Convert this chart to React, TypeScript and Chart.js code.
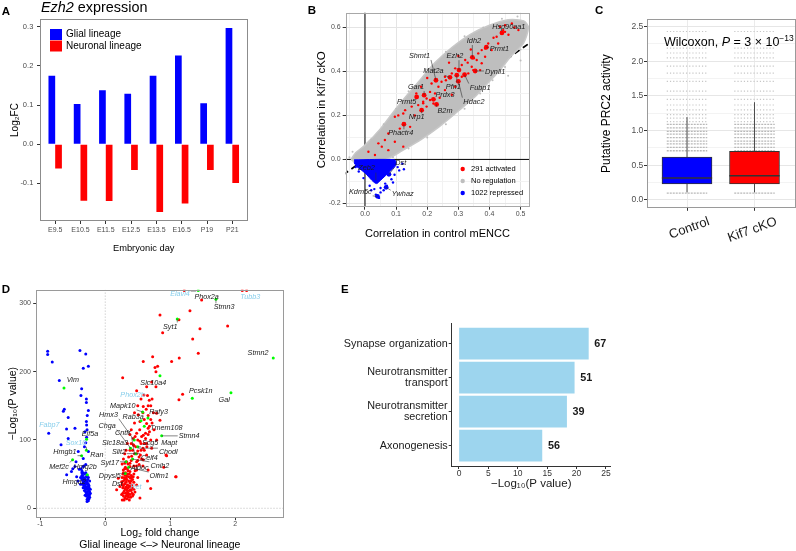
import React, { useEffect, useRef } from 'react';
import { Chart, registerables } from 'chart.js';

Chart.register(...registerables);

const FONT = "'Liberation Sans', 'DejaVu Sans', Arial, sans-serif";
Chart.defaults.font.family = FONT;
Chart.defaults.color = '#4d4d4d';

// ================= Panel A data =================
const aCategories = ['E9.5', 'E10.5', 'E11.5', 'E12.5', 'E13.5', 'E16.5', 'P19', 'P21'];
const aGlial = [0.175, 0.103, 0.138, 0.129, 0.175, 0.227, 0.105, 0.297];
const aNeuronal = [-0.062, -0.144, -0.145, -0.066, -0.173, -0.151, -0.066, -0.099];
const aSeries = ['Glial lineage', 'Neuronal lineage'];
const aYTicks = [-0.1, 0, 0.1, 0.2, 0.3];

// ================= Panel B data =================
const bXTicks = [-0.05, 0, 0.05, 0.1, 0.15, 0.2, 0.25, 0.3, 0.35, 0.4, 0.45, 0.5];
const bYTicks = [-0.2, -0.1, 0, 0.1, 0.2, 0.3, 0.4, 0.5, 0.6];
const bIdentity = [-0.07, 0.54];
// outline of the dense "no regulation" cloud
const bNoRegOutline: [number, number][] = [
  [-0.045, 0.0], [-0.03, 0.03], [0, 0.065], [0.05, 0.14], [0.11, 0.25], [0.17, 0.35], [0.225, 0.44],
  [0.28, 0.51], [0.34, 0.57], [0.4, 0.61], [0.46, 0.635], [0.51, 0.63], [0.525, 0.6], [0.51, 0.53],
  [0.47, 0.47], [0.43, 0.4], [0.39, 0.34], [0.35, 0.28], [0.3, 0.22], [0.24, 0.15], [0.18, 0.09],
  [0.12, 0.04], [0.07, 0.0], [0.03, -0.015], [-0.03, -0.015], [-0.045, 0.0],
];
const bNoRegEdge: [number, number][] = [
  [0.02, 0.09], [0.06, 0.16], [0.1, 0.23], [0.14, 0.31], [0.2, 0.41], [0.26, 0.49], [0.32, 0.56],
  [0.38, 0.6], [0.44, 0.64], [0.49, 0.65], [0.53, 0.58], [0.5, 0.5], [0.45, 0.42], [0.41, 0.36],
  [0.37, 0.3], [0.32, 0.23], [0.26, 0.16], [0.2, 0.1], [0.14, 0.05], [0.09, 0.01], [-0.05, 0.01],
  [-0.04, 0.035], [0.5, 0.45], [0.46, 0.38],
];
const bRepressedOutline: [number, number][] = [
  [-0.035, -0.002], [0.095, -0.002], [0.1, -0.02], [0.095, -0.035], [0.08, -0.055], [0.065, -0.075],
  [0.05, -0.095], [0.037, -0.11], [0.022, -0.095], [0.006, -0.07], [-0.01, -0.05], [-0.025, -0.035],
  [-0.035, -0.015],
];
const bRepressed: [number, number][] = [
  [0.105, -0.035], [0.11, -0.05], [0.095, -0.07], [0.085, -0.09], [0.065, -0.11], [0.05, -0.13],
  [0.03, -0.135], [0.05, -0.15], [0.045, -0.175], [0.035, -0.16], [0.12, -0.02], [0.125, -0.045],
  [-0.02, -0.055], [-0.005, -0.085], [0.015, -0.12], [0.07, -0.12], [0.09, -0.105], [0.02, -0.14],
  [-0.03, -0.035], [0.06, -0.14],
];
const bActivated: [number, number][] = [
  [0.434, 0.603], [0.444, 0.588], [0.461, 0.567], [0.413, 0.553], [0.396, 0.527], [0.428, 0.527],
  [0.386, 0.504], [0.364, 0.482], [0.359, 0.452], [0.375, 0.437], [0.343, 0.421], [0.322, 0.452],
  [0.311, 0.429], [0.29, 0.414], [0.279, 0.391], [0.257, 0.376], [0.246, 0.353], [0.236, 0.33],
  [0.225, 0.3], [0.209, 0.307], [0.198, 0.277], [0.187, 0.255], [0.214, 0.345], [0.257, 0.315],
  [0.279, 0.294], [0.29, 0.33], [0.311, 0.376], [0.332, 0.391], [0.348, 0.406], [0.37, 0.406],
  [0.386, 0.467], [0.407, 0.497], [0.423, 0.558], [0.45, 0.61], [0.472, 0.618], [0.493, 0.588],
  [0.375, 0.497], [0.096, 0.194], [0.107, 0.2], [0.123, 0.209], [0.129, 0.224], [0.15, 0.24],
  [0.16, 0.2], [0.171, 0.247], [0.182, 0.224], [0.187, 0.262], [0.198, 0.24], [0.209, 0.27],
  [0.22, 0.254], [0.043, 0.073], [0.054, 0.058], [0.064, 0.088], [0.011, 0.035], [0.032, 0.02],
  [0.075, 0.118], [0.096, 0.08], [0.112, 0.14], [0.145, 0.148], [0.123, 0.058], [0.075, 0.042],
  [0.2, 0.37], [0.18, 0.33], [0.165, 0.3], [0.27, 0.44], [0.3, 0.47], [0.34, 0.5], [0.45, 0.58],
  [0.48, 0.6], [0.26, 0.36], [0.24, 0.28], [0.33, 0.44], [0.35, 0.46],
];
// highlighted genes: name, x, y, repressed?
const bHighlighted: [string, number, number, boolean][] = [
  ['Hsp90aa1', 0.44, 0.575, false], ['Idh2', 0.345, 0.464, false], ['Prmt1', 0.39, 0.51, false],
  ['Ezh2', 0.302, 0.406, false], ['Dynll1', 0.354, 0.402, false], ['Shmt1', 0.228, 0.36, false],
  ['Mat2a', 0.273, 0.373, false], ['Pfn1', 0.295, 0.383, false], ['Fubp1', 0.32, 0.385, false],
  ['Hdac2', 0.3, 0.355, false], ['Gar1', 0.19, 0.292, false], ['Prmt5', 0.166, 0.284, false],
  ['Prdx3', 0.22, 0.273, false], ['B2m', 0.23, 0.25, false], ['Nrp1', 0.182, 0.224, false],
  ['Phactr4', 0.125, 0.16, false], ['Zeb2', 0.035, -0.094, true], ['Dst', 0.077, -0.068, true],
  ['Kdm5c', 0.04, -0.168, true], ['Ywhaz', 0.068, -0.127, true],
];
const bHighlightLabelPos: [number, number][] = [
  [0.462, 0.6], [0.35, 0.539], [0.432, 0.5], [0.289, 0.47], [0.418, 0.398], [0.175, 0.471],
  [0.22, 0.401], [0.284, 0.33], [0.37, 0.326], [0.35, 0.262], [0.164, 0.33], [0.134, 0.262],
  [0.257, 0.292], [0.257, 0.221], [0.166, 0.191], [0.115, 0.118], [0.005, -0.041], [0.115, -0.018],
  [-0.015, -0.147], [0.121, -0.159],
];
const bLegend = ['291 activated', 'No regulation', '1022 repressed'];

// ================= Panel C data =================
const cGroups = ['Control', 'Kif7 cKO'];
const cLowerWhisker = [0.11, 0.11];
const cQ1 = [0.23, 0.23];
const cMedian = [0.317, 0.35];
const cQ3 = [0.62, 0.7];
const cUpperWhisker = [1.195, 1.41];
const cDenseLevels = [0.1, 0.71, 0.76, 0.81, 0.85, 0.9, 0.95, 0.99, 1.04, 1.09];
const cSparseLevels = [1.13, 1.18, 1.23, 1.3, 1.37, 1.45, 1.57, 1.71, 1.83, 1.93, 2.05, 2.12, 2.19, 2.43];
const cYTicks = [0, 0.25, 0.5, 0.75, 1, 1.25, 1.5, 1.75, 2, 2.25, 2.5];

// ================= Panel D data =================
const dXTicks = [-1, 0, 1, 2];
const dYTicks = [0, 100, 200, 300];
const dGlial: [number, number][] = [
  [-0.886, 230], [-0.886, 225], [-0.815, 214], [-0.389, 231], [-0.3, 226], [-0.26, 208], [-0.338, 205],
  [-0.707, 187], [-0.363, 175], [-0.29, 160], [-0.29, 155], [-0.374, 165], [-0.26, 143], [-0.63, 145],
  [-0.645, 142], [-0.277, 136], [-0.57, 133], [-0.287, 122], [-0.87, 110], [-0.595, 116], [-0.466, 117],
  [-0.68, 93], [-0.57, 102], [-0.312, 112], [-0.287, 104], [-0.415, 83], [-0.338, 73], [-0.26, 83],
  [-0.466, 61], [-0.594, 49], [-0.52, 54], [-0.338, 61], [-0.44, 46], [-0.29, 127], [-0.28, 115],
  [-0.3, 96], [-0.32, 90], [-0.45, 68], [-0.4, 57], [-0.5, 58], [-0.36, 52], [-0.42, 40], [-0.38, 35],
  [-0.35, 48], [-0.33, 45], [-0.31, 43], [-0.29, 46], [-0.27, 42], [-0.34, 40], [-0.32, 38], [-0.3, 36],
  [-0.28, 38], [-0.26, 35], [-0.33, 33], [-0.31, 30], [-0.29, 31], [-0.27, 28], [-0.25, 30], [-0.32, 26],
  [-0.3, 24], [-0.28, 22], [-0.26, 25], [-0.24, 20], [-0.29, 18], [-0.27, 15], [-0.25, 14], [-0.26, 11],
  [-0.28, 10], [-0.24, 16], [-0.3, 28], [-0.35, 35], [-0.36, 42], [-0.23, 22], [-0.34, 30],
  [-0.36, 55], [-0.34, 52], [-0.32, 50], [-0.3, 52], [-0.28, 48], [-0.26, 45], [-0.24, 40], [-0.35, 44],
  [-0.33, 41], [-0.31, 38], [-0.29, 40], [-0.27, 36], [-0.25, 33], [-0.33, 36], [-0.31, 33], [-0.29, 28],
  [-0.27, 32], [-0.25, 25], [-0.23, 28], [-0.31, 19], [-0.29, 21], [-0.27, 19], [-0.25, 18], [-0.28, 13],
  [-0.26, 20], [-0.24, 24], [-0.3, 31], [-0.32, 34], [-0.34, 37], [-0.36, 48], [-0.38, 45], [-0.37, 58],
  [-0.33, 62], [-0.3, 64],
];
const dNeuronal: [number, number][] = [
  [1.216, 319], [1.483, 305], [2.108, 319], [2.175, 319], [1.303, 289], [1.134, 276], [1.457, 263],
  [1.883, 267], [1.345, 248], [1.431, 227], [1.138, 220], [1.021, 215], [0.806, 208], [0.842, 283],
  [0.883, 257], [0.729, 222], [0.585, 215], [0.765, 206], [0.78, 200], [0.714, 185], [0.78, 178],
  [0.637, 178], [0.268, 191], [0.483, 172], [1.19, 167], [1.134, 159], [0.595, 166], [0.677, 158],
  [0.585, 149], [0.508, 137], [0.79, 139], [0.842, 129], [0.66, 136], [0.534, 127], [0.637, 124],
  [0.66, 117], [0.483, 110], [0.585, 107], [0.432, 102], [0.534, 98], [0.637, 95], [0.714, 88],
  [0.432, 93], [0.38, 85], [0.79, 100], [0.406, 76], [0.329, 68], [0.483, 68], [0.585, 71], [0.637, 78],
  [0.935, 78], [0.38, 61], [0.278, 56], [0.483, 56], [0.66, 56], [0.303, 49], [0.406, 46], [1.09, 46],
  [0.2, 44], [0.252, 39], [0.329, 42], [0.226, 32], [0.303, 29], [0.38, 32], [0.175, 27], [0.252, 20],
  [0.355, 22], [0.457, 24], [0.483, 34], [0.699, 29], [0.534, 15], [0.262, 12], [0.432, 20], [0.944, 77],
  [1.083, 46], [0.27, 50], [0.29, 45], [0.31, 52], [0.33, 47], [0.35, 55], [0.37, 50], [0.39, 44],
  [0.28, 40], [0.3, 36], [0.32, 38], [0.34, 34], [0.36, 40], [0.38, 37], [0.4, 40], [0.42, 30],
  [0.27, 30], [0.29, 25], [0.31, 22], [0.33, 27], [0.35, 30], [0.37, 26], [0.39, 28], [0.41, 22],
  [0.28, 18], [0.3, 15], [0.32, 18], [0.34, 20], [0.36, 16], [0.31, 60], [0.35, 65], [0.4, 70],
  [0.44, 62], [0.45, 80], [0.52, 75], [0.55, 85], [0.47, 90], [0.5, 100], [0.56, 105], [0.62, 110],
  [0.68, 120], [0.58, 140], [0.66, 150], [0.72, 160], [0.5, 150], [0.45, 125], [0.4, 115], [0.55, 95],
  [0.6, 85], [0.7, 100], [0.75, 115], [0.9, 60], [0.65, 40], [0.5, 45], [0.58, 62], [0.44, 50],
  [0.26, 65], [0.3, 80], [0.34, 95], [0.38, 108],
  [0.26, 45], [0.28, 52], [0.3, 58], [0.32, 44], [0.34, 50], [0.36, 46], [0.38, 54], [0.4, 48],
  [0.42, 42], [0.44, 38], [0.26, 35], [0.28, 33], [0.3, 42], [0.32, 31], [0.34, 24], [0.36, 33],
  [0.38, 20], [0.4, 26], [0.42, 18], [0.44, 28], [0.27, 22], [0.29, 12], [0.31, 28], [0.33, 14],
  [0.35, 18], [0.37, 12], [0.39, 16], [0.41, 34], [0.43, 46], [0.46, 55], [0.48, 62], [0.5, 70],
  [0.52, 64], [0.54, 78], [0.56, 72], [0.58, 88], [0.6, 95], [0.62, 102], [0.64, 90], [0.66, 108],
  [0.68, 112], [0.7, 130], [0.72, 125], [0.74, 140], [0.48, 80], [0.5, 84], [0.44, 92], [0.46, 105],
  [0.42, 85], [0.36, 75], [0.38, 66], [0.34, 58], [0.3, 66], [0.28, 72], [0.32, 85], [0.4, 95],
  [0.53, 115], [0.6, 130], [0.63, 145], [0.7, 150], [0.65, 165], [0.55, 160], [0.45, 140],
];
const dHighlighted: [number, number][] = [
  [-0.635, 176], [-0.287, 101], [-0.29, 85], [-0.502, 71], [-0.363, 77], [-0.277, 49], [0.575, 141],
  [0.657, 132], [0.446, 100], [0.5, 90], [0.39, 88], [0.47, 80], [0.868, 106], [0.318, 68], [0.308, 51],
  [1.108, 277], [1.703, 306], [1.431, 319], [1.339, 161], [1.934, 169], [2.585, 220], [0.842, 194],
  [0.6, 120], [0.55, 128], [0.42, 72], [0.36, 60],
];
const dGeneNames = [
  'Elavl4', 'Phox2a', 'Tubb3', 'Stmn3', 'Syt1', 'Stmn2', 'Vim', 'Slc10a4', 'Pcsk1n', 'Gal', 'Phox2b',
  'Mapk10', 'Rafy3', 'Hmx3', 'Rab3a', 'Fabp7', 'Chga', 'Tmem108', 'Cntfr', 'Eif5a', 'Stmn4', 'Sox10',
  'Slc18a3', 'Scg5', 'Mapt', 'Hmgb1', 'Ran', 'Slit2', 'Chodl', 'Celf4', 'Syt17', 'Mef2c', 'Hmg2b',
  'Aldoc', 'Cnih2', 'Dpysl5', 'Olfm1', 'Hmga2', 'Dst', 'Ret',
];
const dGeneLabelPos: [number, number][] = [
  [1.15, 313], [1.56, 309], [2.23, 310], [1.83, 294], [1.0, 266], [2.35, 228], [-0.5, 188], [0.74, 184],
  [1.47, 171], [1.83, 159], [0.42, 166], [0.27, 150], [0.82, 141], [0.05, 137], [0.43, 133], [-0.86, 122],
  [0.03, 121], [0.94, 118], [0.27, 110], [-0.235, 109], [1.29, 106], [-0.45, 96], [0.15, 96], [0.69, 96],
  [0.985, 95], [-0.62, 82], [-0.13, 78], [0.21, 83], [0.97, 82], [0.68, 74], [0.07, 67], [-0.71, 61],
  [-0.31, 61], [0.53, 59], [0.84, 62], [0.07, 47], [0.83, 47], [-0.48, 39], [0.185, 36], [0.47, 31],
];
const dGeneTarget: ([number, number] | null)[] = [
  [1.4, 318], null, null, [1.703, 306], [1.108, 277], null, null, null, null, null, null, [0.575, 141],
  null, [0.44, 100], null, null, [0.39, 88], null, [0.45, 80], null, [0.868, 106], [-0.29, 85],
  [0.39, 88], [0.5, 90], null, [-0.363, 77], null, [0.47, 80], [0.5, 88], [0.45, 80], [0.318, 68],
  [-0.502, 71], null, null, [0.42, 72], [0.308, 51], [0.36, 60], null, null, null,
];
const dMarkerGenes = ['Elavl4', 'Tubb3', 'Phox2b', 'Fabp7', 'Sox10', 'Ret'];

// ================= Panel E data =================
const eTerms = [['Synapse organization'], ['Neurotransmitter', 'transport'], ['Neurotransmitter', 'secretion'], ['Axonogenesis']];
const eNegLogP = [22.0, 19.6, 18.3, 14.1];
const eGeneCounts = [67, 51, 39, 56];
const eXTicks = [0, 5, 10, 15, 20, 25];

// ================= helpers =================
const toPts = (arr: [number, number][]) => arr.map(([x, y]) => ({ x, y }));
const setTicks = (vals: number[]) => (s: any) => {
  s.ticks = vals.map((v) => ({ value: v }));
};
const near = (a: number, b: number) => Math.abs(a - b) < 1e-6;

function baseOptions(padding: any) {
  return {
    responsive: false,
    animation: false,
    devicePixelRatio: 1,
    events: [],
    layout: { padding },
    plugins: { legend: { display: false }, tooltip: { enabled: false } },
  };
}

function borderPlugin(id: string, color: string) {
  return {
    id,
    afterDatasetsDraw(chart: any) {
      const { ctx, chartArea: a } = chart;
      ctx.save();
      ctx.strokeStyle = color;
      ctx.lineWidth = 1;
      ctx.strokeRect(Math.round(a.left) + 0.5, Math.round(a.top) + 0.5, Math.round(a.right - a.left) - 1, Math.round(a.bottom - a.top) - 1);
      ctx.restore();
    },
  };
}

function letterPlugin(id: string, letter: string, x: number, y: number) {
  return {
    id,
    afterDraw(chart: any) {
      const ctx = chart.ctx;
      ctx.save();
      ctx.font = `bold 11.5px ${FONT}`;
      ctx.fillStyle = '#000';
      ctx.textBaseline = 'alphabetic';
      ctx.textAlign = 'left';
      ctx.fillText(letter, x, y);
      ctx.restore();
    },
  };
}

type Run = { t: string; style?: string; size: number; dy?: number };
function drawRuns(ctx: any, x: number, y: number, runs: Run[]) {
  let cx = x;
  for (const r of runs) {
    ctx.font = `${r.style || ''} ${r.size}px ${FONT}`;
    ctx.fillText(r.t, cx, y + (r.dy || 0));
    cx += ctx.measureText(r.t).width;
  }
}

type GeneLabel = { name: string; lx: number; ly: number; target: [number, number] | null; color: string };
function geneLabelPlugin(id: string, items: GeneLabel[], size: number) {
  return {
    id,
    afterDatasetsDraw(chart: any) {
      const { ctx, scales, chartArea: a } = chart;
      const xs = scales.x;
      const ys = scales.y;
      ctx.save();
      ctx.beginPath();
      ctx.rect(a.left, a.top, a.right - a.left, a.bottom - a.top);
      ctx.clip();
      ctx.font = `italic ${size}px ${FONT}`;
      ctx.textAlign = 'center';
      ctx.textBaseline = 'middle';
      for (const it of items) {
        const cx = xs.getPixelForValue(it.lx);
        const cy = ys.getPixelForValue(it.ly);
        const hw = ctx.measureText(it.name).width / 2 + 1;
        const hh = size / 2 + 0.5;
        if (it.target) {
          const px = xs.getPixelForValue(it.target[0]);
          const py = ys.getPixelForValue(it.target[1]);
          const ex = Math.min(Math.max(px, cx - hw), cx + hw);
          const ey = Math.min(Math.max(py, cy - hh), cy + hh);
          if (Math.hypot(px - ex, py - ey) > 2) {
            ctx.strokeStyle = '#333';
            ctx.lineWidth = 0.6;
            ctx.beginPath();
            ctx.moveTo(ex, ey);
            ctx.lineTo(px, py);
            ctx.stroke();
          }
        }
        ctx.fillStyle = it.color;
        ctx.fillText(it.name, cx, cy);
      }
      ctx.restore();
    },
  };
}

// ================= Panel A =================
function configA(): any {
  const decor = {
    id: 'aDecor',
    afterDraw(chart: any) {
      const { ctx, chartArea: a } = chart;
      ctx.save();
      ctx.fillStyle = '#000';
      ctx.textBaseline = 'alphabetic';
      ctx.textAlign = 'left';
      drawRuns(ctx, a.left + 1, 12, [
        { t: 'Ezh2', style: 'italic', size: 14.4 },
        { t: ' expression', size: 14.4 },
      ]);
      chart.data.datasets.forEach((d: any, i: number) => {
        const y0 = a.top + 10 + i * 11.5;
        ctx.fillStyle = d.backgroundColor;
        ctx.fillRect(a.left + 10, y0, 12, 11);
        ctx.fillStyle = '#000';
        ctx.font = `10px ${FONT}`;
        ctx.textBaseline = 'middle';
        ctx.fillText(d.label, a.left + 26, y0 + 5.5);
      });
      ctx.restore();
    },
  };
  return {
    type: 'bar',
    data: {
      datasets: [
        { label: aSeries[0], data: aGlial.map((v, i) => ({ x: i, y: v })), backgroundColor: '#0000FF', categoryPercentage: 0.53, barPercentage: 1 },
        { label: aSeries[1], data: aNeuronal.map((v, i) => ({ x: i, y: v })), backgroundColor: '#FF0000', categoryPercentage: 0.53, barPercentage: 1 },
      ],
    },
    options: {
      ...baseOptions({ left: 0, top: 19, right: 14.5, bottom: 0 }),
      scales: {
        x: {
          type: 'linear', min: -0.6, max: 7.6, offset: false,
          afterBuildTicks: setTicks(aCategories.map((_, i) => i)),
          afterFit: (s: any) => { s.height = 41; },
          ticks: { callback: (v: number) => aCategories[Math.round(v)], font: { size: 7 }, color: '#4d4d4d', padding: 1.8, maxRotation: 0, minRotation: 0, autoSkip: false },
          grid: { drawOnChartArea: false, tickLength: 3, tickColor: '#333', offset: false },
          border: { display: false },
          title: { display: true, text: 'Embryonic day', font: { size: 9.3 }, color: '#000', padding: { top: 0, bottom: 8.4 } },
        },
        y: {
          type: 'linear', min: -0.196, max: 0.32,
          afterBuildTicks: setTicks(aYTicks),
          afterFit: (s: any) => { s.width = 40; },
          ticks: { callback: (v: number) => v.toFixed(1), font: { size: 7.5 }, color: '#4d4d4d', padding: 3.7 },
          grid: { drawOnChartArea: false, tickLength: 3, tickColor: '#333' },
          border: { display: false },
          title: { display: true, text: 'Log₂FC', font: { size: 10 }, color: '#000', padding: { top: 9, bottom: 0 } },
        },
      },
    },
    plugins: [borderPlugin('aBorder', '#8c8c8c'), letterPlugin('aLetter', 'A', 1.7, 15), decor],
  };
}

// ================= Panel B =================
function configB(): any {
  const isMajorX = (v: number) => near(Math.round(v * 10), v * 10);
  const isMajorY = (v: number) => Math.round(v * 10) % 2 === 0;
  const legend = {
    id: 'bLegend',
    afterDraw(chart: any) {
      const { ctx, chartArea: a } = chart;
      const colors = ['#FF0000', '#BEBEBE', '#0000FF'];
      ctx.save();
      ctx.font = `7.5px ${FONT}`;
      ctx.textBaseline = 'middle';
      ctx.textAlign = 'left';
      bLegend.forEach((t, i) => {
        const y = a.bottom - 37.7 + i * 12;
        ctx.fillStyle = colors[i];
        ctx.beginPath();
        ctx.arc(a.right - 66.6, y, 2.2, 0, Math.PI * 2);
        ctx.fill();
        ctx.fillStyle = '#000';
        ctx.fillText(t, a.right - 58.3, y);
      });
      ctx.restore();
    },
  };
  const labels: GeneLabel[] = bHighlighted.map((g, i) => ({
    name: g[0], lx: bHighlightLabelPos[i][0], ly: bHighlightLabelPos[i][1], target: [g[1], g[2]], color: '#1a1a1a',
  }));
  return {
    type: 'scatter',
    data: {
      datasets: [
        { type: 'line', data: bIdentity.map((v) => ({ x: v, y: v })), borderColor: '#000', borderWidth: 1.8, borderDash: [6, 4], pointRadius: 0, order: 20 },
        { type: 'line', data: [{ x: bIdentity[0], y: 0 }, { x: bIdentity[1], y: 0 }], borderColor: '#000', borderWidth: 1, pointRadius: 0, order: 19 },
        { type: 'line', data: [{ x: 0, y: -0.25 }, { x: 0, y: 0.7 }], borderColor: '#000', borderWidth: 1, pointRadius: 0, order: 19 },
        { type: 'line', data: toPts(bNoRegOutline), fill: 'shape', backgroundColor: '#BEBEBE', borderColor: '#C8C8C8', borderWidth: 1.5, pointRadius: 0, tension: 0.25, order: 15 },
        { data: toPts(bNoRegEdge), pointRadius: 1, backgroundColor: '#BEBEBE', borderWidth: 0, order: 14 },
        { type: 'line', data: toPts(bRepressedOutline), fill: 'shape', backgroundColor: '#0000FF', borderColor: '#0000FF', borderWidth: 1, pointRadius: 0, tension: 0.3, order: 13 },
        { data: toPts(bRepressed), pointRadius: 1.2, backgroundColor: '#0000FF', borderWidth: 0, order: 12 },
        { data: toPts(bActivated), pointRadius: 1.2, backgroundColor: '#FF0000', borderWidth: 0, order: 11 },
        { data: bHighlighted.map((g) => ({ x: g[1], y: g[2] })), pointRadius: 2.4, backgroundColor: bHighlighted.map((g) => (g[3] ? '#0000FF' : '#FF0000')), borderWidth: 0, order: 10 },
      ],
    },
    options: {
      ...baseOptions({ left: 0, top: 12.7, right: 5.7, bottom: 0 }),
      scales: {
        x: {
          type: 'linear', min: -0.062, max: 0.528,
          afterBuildTicks: setTicks(bXTicks),
          afterFit: (s: any) => { s.height = 250 - 206.7; },
          ticks: { callback: (v: number) => (isMajorX(v) ? v.toFixed(1) : ''), font: { size: 7 }, color: '#4d4d4d', padding: 0, maxRotation: 0, autoSkip: false },
          grid: {
            color: (c: any) => (isMajorX(c.tick.value) ? '#e4e4e4' : '#f2f2f2'),
            tickColor: (c: any) => (isMajorX(c.tick.value) ? '#333' : 'rgba(0,0,0,0)'),
            tickLength: 3,
          },
          border: { display: false },
          title: { display: true, text: 'Correlation in control mENCC', font: { size: 11 }, color: '#000', padding: { top: 0, bottom: 9.4 } },
        },
        y: {
          type: 'linear', min: -0.215, max: 0.667,
          afterBuildTicks: setTicks(bYTicks),
          afterFit: (s: any) => { s.width = 77.7; },
          ticks: { callback: (v: number) => (isMajorY(v) ? v.toFixed(1) : ''), font: { size: 7 }, color: '#4d4d4d', padding: 2 },
          grid: {
            color: (c: any) => (isMajorY(c.tick.value) ? '#e4e4e4' : '#f2f2f2'),
            tickColor: (c: any) => (isMajorY(c.tick.value) ? '#333' : 'rgba(0,0,0,0)'),
            tickLength: 3,
          },
          border: { display: false },
          title: { display: true, text: 'Correlation in Kif7 cKO', font: { size: 11.5 }, color: '#000', padding: { top: 47, bottom: 0 } },
        },
      },
    },
    plugins: [geneLabelPlugin('bLabels', labels, 7.3), borderPlugin('bBorder', '#a8a8a8'), letterPlugin('bLetter', 'B', 39.7, 14.3), legend],
  };
}

// ================= Panel C =================
function configC(): any {
  const isMajor = (v: number) => near(Math.round(v * 2), v * 2);
  const rowSets: any[] = [];
  cGroups.forEach((_, g) => {
    cDenseLevels.forEach((lv) => {
      rowSets.push({ type: 'line', data: [{ x: g - 0.3, y: lv }, { x: g + 0.3, y: lv }], borderColor: '#b8b8b8', borderWidth: 1.3, borderDash: [2, 1], pointRadius: 0, order: 6 });
    });
    cSparseLevels.forEach((lv) => {
      rowSets.push({ type: 'line', data: [{ x: g - 0.3, y: lv }, { x: g + 0.3, y: lv }], borderColor: '#c6c6c6', borderWidth: 1.2, borderDash: [1.2, 2], pointRadius: 0, order: 6 });
    });
  });
  const whiskers: any[] = [];
  cGroups.forEach((_, g) => {
    whiskers.push({ type: 'line', data: [{ x: g, y: cLowerWhisker[g] }, { x: g, y: cQ1[g] }], borderColor: '#4d4d4d', borderWidth: 1, pointRadius: 0, order: 5 });
    whiskers.push({ type: 'line', data: [{ x: g, y: cQ3[g] }, { x: g, y: cUpperWhisker[g] }], borderColor: '#4d4d4d', borderWidth: 1, pointRadius: 0, order: 5 });
  });
  const medians = cGroups.map((_, g) => ({
    type: 'line', data: [{ x: g - 0.372, y: cMedian[g] }, { x: g + 0.372, y: cMedian[g] }], borderColor: '#333', borderWidth: 1.6, pointRadius: 0, order: 1,
  }));
  const decor = {
    id: 'cDecor',
    afterDraw(chart: any) {
      const { ctx, chartArea: a } = chart;
      ctx.save();
      ctx.fillStyle = '#000';
      ctx.textBaseline = 'alphabetic';
      ctx.textAlign = 'left';
      drawRuns(ctx, a.left + 17.5, 45.7, [
        { t: 'Wilcoxon, ', size: 12.5 },
        { t: 'P', style: 'italic', size: 12.5 },
        { t: ' = 3 × 10', size: 12.5 },
        { t: '−13', size: 8.5, dy: -5 },
      ]);
      ctx.restore();
    },
  };
  return {
    type: 'bar',
    data: {
      datasets: [
        ...rowSets,
        ...whiskers,
        {
          type: 'bar', data: cGroups.map((_, g) => ({ x: g, y: [cQ1[g], cQ3[g]] })),
          backgroundColor: ['#0000FF', '#FF0000'], borderColor: '#333', borderWidth: 1, borderSkipped: false, barThickness: 50, order: 2,
        },
        ...medians,
      ],
    },
    options: {
      ...baseOptions({ left: 0, top: 19, right: 1, bottom: 0 }),
      scales: {
        x: {
          type: 'linear', min: -0.6, max: 1.6, offset: false,
          afterBuildTicks: setTicks([0, 1]),
          afterFit: (s: any) => { s.height = 250 - 208.3; },
          ticks: { callback: (v: number) => cGroups[Math.round(v)], font: { size: 13 }, color: '#1a1a1a', minRotation: 20, maxRotation: 20, labelOffset: 22, padding: 3, autoSkip: false },
          grid: { color: '#ebebeb', tickColor: '#333', tickLength: 2.5, offset: false },
          border: { display: false },
        },
        y: {
          type: 'linear', min: -0.12, max: 2.61,
          afterBuildTicks: setTicks(cYTicks),
          afterFit: (s: any) => { s.width = 84.5; },
          ticks: { callback: (v: number) => (isMajor(v) ? v.toFixed(1) : ''), font: { size: 8.5 }, color: '#4d4d4d', padding: 0.7 },
          grid: {
            color: (c: any) => (isMajor(c.tick.value) ? '#e6e6e6' : '#f3f3f3'),
            tickColor: (c: any) => (isMajor(c.tick.value) ? '#333' : 'rgba(0,0,0,0)'),
            tickLength: 2.5,
          },
          border: { display: false },
          title: { display: true, text: 'Putative PRC2 activity', font: { size: 12 }, color: '#000', padding: { top: 37.5, bottom: 0 } },
        },
      },
    },
    plugins: [borderPlugin('cBorder', '#9a9a9a'), letterPlugin('cLetter', 'C', 33, 14.3), decor],
  };
}

// ================= Panel D =================
function configD(): any {
  const labels: GeneLabel[] = dGeneNames.map((n, i) => ({
    name: n, lx: dGeneLabelPos[i][0], ly: dGeneLabelPos[i][1], target: dGeneTarget[i],
    color: dMarkerGenes.includes(n) ? '#87CEEB' : '#1a1a1a',
  }));
  return {
    type: 'scatter',
    data: {
      datasets: [
        { type: 'line', data: [{ x: 0, y: -20 }, { x: 0, y: 330 }], borderColor: '#c8c8c8', borderWidth: 0.8, borderDash: [1.5, 1.5], pointRadius: 0, order: 20 },
        { type: 'line', data: [{ x: -1.2, y: 0 }, { x: 2.9, y: 0 }], borderColor: '#c8c8c8', borderWidth: 0.8, borderDash: [1.5, 1.5], pointRadius: 0, order: 20 },
        { data: toPts(dGlial), pointRadius: 1.5, backgroundColor: '#0000FF', borderWidth: 0, order: 3 },
        { data: toPts(dNeuronal), pointRadius: 1.5, backgroundColor: '#FF0000', borderWidth: 0, order: 2 },
        { data: toPts(dHighlighted), pointRadius: 1.5, backgroundColor: '#00FF00', borderWidth: 0, order: 1 },
      ],
    },
    options: {
      ...baseOptions({ left: 0, top: 9.7, right: 8, bottom: 0 }),
      scales: {
        x: {
          type: 'linear', min: -1.07, max: 2.75,
          afterBuildTicks: setTicks(dXTicks),
          afterFit: (s: any) => { s.height = 271 - 237.7; },
          ticks: { callback: (v: number) => String(v), font: { size: 7 }, color: '#4d4d4d', padding: 0, maxRotation: 0 },
          grid: { drawOnChartArea: false, tickColor: '#333', tickLength: 2.5 },
          border: { display: false },
          title: { display: true, text: ['Log₂ fold change', 'Glial lineage <–> Neuronal lineage'], font: { size: 10.5, lineHeight: 1.11 }, color: '#000', padding: { top: 0, bottom: 0.2 } },
        },
        y: {
          type: 'linear', min: -13.8, max: 320,
          afterBuildTicks: setTicks(dYTicks),
          afterFit: (s: any) => { s.width = 35.7; },
          ticks: { callback: (v: number) => String(v), font: { size: 7 }, color: '#4d4d4d', padding: 2.2 },
          grid: { drawOnChartArea: false, tickColor: '#333', tickLength: 2.5 },
          border: { display: false },
          title: { display: true, text: '−Log₁₀(P value)', font: { size: 10.5 }, color: '#000', padding: { top: 7, bottom: 0 } },
        },
      },
    },
    plugins: [geneLabelPlugin('dLabels', labels, 7.2), borderPlugin('dBorder', '#9a9a9a'), letterPlugin('dLetter', 'D', 1.7, 13.3)],
  };
}

// ================= Panel E =================
function configE(): any {
  const valueLabels = {
    id: 'eValues',
    afterDatasetsDraw(chart: any) {
      const { ctx } = chart;
      const meta = chart.getDatasetMeta(0);
      ctx.save();
      ctx.font = `bold 10.8px ${FONT}`;
      ctx.fillStyle = '#1a1a1a';
      ctx.textBaseline = 'middle';
      ctx.textAlign = 'left';
      meta.data.forEach((el: any, i: number) => {
        ctx.fillText(String(eGeneCounts[i]), el.x + 6, el.y);
      });
      ctx.restore();
    },
  };
  return {
    type: 'bar',
    data: {
      datasets: [
        { data: eNegLogP.map((v, i) => ({ x: v, y: i })), backgroundColor: '#9DD5EE', barThickness: 31 },
      ],
    },
    options: {
      ...baseOptions({ left: 0, top: 43.3, right: 9.3, bottom: 0 }),
      indexAxis: 'y',
      scales: {
        x: {
          type: 'linear', min: -1.24, max: 25.8,
          afterBuildTicks: setTicks(eXTicks),
          afterFit: (s: any) => { s.height = 215 - 186; },
          ticks: { callback: (v: number) => String(v), font: { size: 8.5 }, color: '#333', padding: 0, maxRotation: 0 },
          grid: { drawOnChartArea: false, tickColor: '#333', tickLength: 3 },
          border: { display: true, color: '#333', width: 1 },
          title: { display: true, text: '−Log₁₀(P value)', font: { size: 11.5 }, color: '#1a1a1a', padding: { top: 0, bottom: 4.1 } },
        },
        y: {
          type: 'linear', min: -0.6, max: 3.6, reverse: true, offset: false,
          afterBuildTicks: setTicks([0, 1, 2, 3]),
          afterFit: (s: any) => { s.width = 151.7; },
          ticks: { callback: (v: number) => eTerms[Math.round(v)], font: { size: 10.8, lineHeight: 1.0 }, color: '#1a1a1a', padding: 1 },
          grid: { drawOnChartArea: false, tickColor: '#333', tickLength: 3, offset: false },
          border: { display: true, color: '#333', width: 1 },
        },
      },
    },
    plugins: [letterPlugin('eLetter', 'E', 41, 13.3), valueLabels],
  };
}

// ================= components =================
function ChartCanvas(props: { left: number; top: number; width: number; height: number; make: () => any }) {
  const ref = useRef<HTMLCanvasElement>(null);
  useEffect(() => {
    const chart = new Chart(ref.current as HTMLCanvasElement, props.make());
    return () => chart.destroy();
  }, []);
  return (
    <canvas
      ref={ref}
      width={props.width}
      height={props.height}
      style={{ position: 'absolute', left: props.left, top: props.top, width: props.width, height: props.height }}
    />
  );
}

export default function App() {
  return (
    <div style={{ position: 'absolute', left: 0, top: 0, width: 796, height: 551, background: '#fff', overflow: 'hidden' }}>
      <ChartCanvas left={0} top={0} width={262} height={262} make={configA} />
      <ChartCanvas left={268} top={0} width={267} height={250} make={configB} />
      <ChartCanvas left={562} top={0} width={234} height={250} make={configC} />
      <ChartCanvas left={0} top={280} width={292} height={271} make={configD} />
      <ChartCanvas left={300} top={280} width={320} height={215} make={configE} />
    </div>
  );
}
